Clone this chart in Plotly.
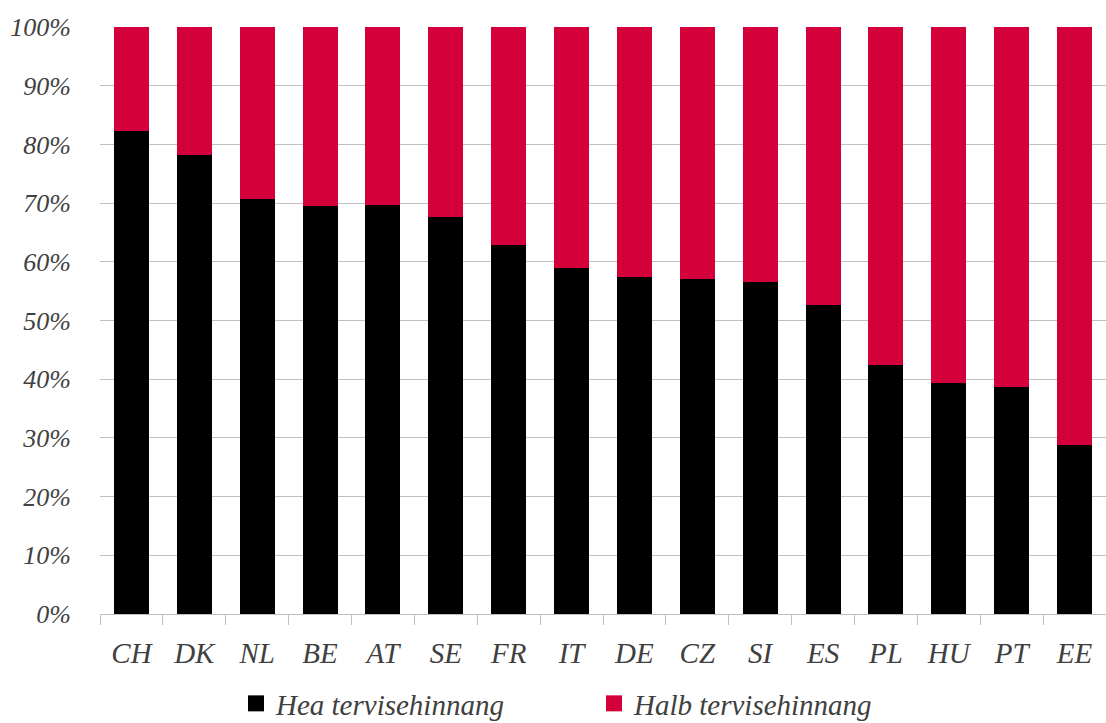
import plotly.graph_objects as go

countries = ["CH", "DK", "NL", "BE", "AT", "SE", "FR", "IT",
             "DE", "CZ", "SI", "ES", "PL", "HU", "PT", "EE"]
good_health = [82.3, 78.2, 70.7, 69.5, 69.7, 67.6, 62.9, 58.9,
               57.4, 57.1, 56.6, 52.6, 42.4, 39.4, 38.7, 28.8]
poor_health = [17.7, 21.8, 29.3, 30.5, 30.3, 32.4, 37.1, 41.1,
               42.6, 42.9, 43.4, 47.4, 57.6, 60.6, 61.3, 71.2]
y_ticks = [0, 10, 20, 30, 40, 50, 60, 70, 80, 90, 100]

BLACK = "#000000"
RED = "#D4003A"
TEXT = "#404040"
FONT = "Liberation Serif"

fig = go.Figure()
fig.add_trace(go.Bar(x=countries, y=good_health, marker_color=BLACK,
                     marker_line_width=0, showlegend=False))
fig.add_trace(go.Bar(x=countries, y=poor_health, marker_color=RED,
                     marker_line_width=0, showlegend=False))

# legend entries with larger square swatches
for name, col in [("Hea tervisehinnang", BLACK), ("Halb tervisehinnang", RED)]:
    fig.add_trace(go.Scatter(x=[None], y=[None], mode="markers", name=name,
                             marker=dict(symbol="square", size=20, color=col)))

fig.update_layout(
    width=1106, height=723,
    margin=dict(l=100, r=0, t=27, b=109, autoexpand=False),
    barmode="stack", bargap=0.444,
    plot_bgcolor="white", paper_bgcolor="white",
    font=dict(family=FONT, size=26, color=TEXT),
    legend=dict(orientation="h", x=(236 - 100) / 1006, xanchor="left",
                y=(614 - 729) / 587, yanchor="bottom",
                font=dict(family=FONT, size=29, color=TEXT, style="italic"),
                itemsizing="trace", entrywidth=313, traceorder="normal",
                borderwidth=0, tracegroupgap=0),
)
fig.update_xaxes(
    showgrid=False, showline=True, linecolor="#bfbfbf", linewidth=1,
    ticks="outside", tickson="boundaries", ticklen=10, tickcolor="#bfbfbf",
    tickfont=dict(family=FONT, size=29, color=TEXT, style="italic"),
    ticklabelstandoff=13, range=[-0.5, 15.5],
)
fig.update_yaxes(
    range=[0, 100], tickvals=y_ticks, ticktext=[f"{v}%" for v in y_ticks],
    showgrid=True, gridcolor="#c0c0c0", gridwidth=1, zeroline=False,
    tickfont=dict(family=FONT, size=26, color=TEXT, style="italic"),
    ticklabelstandoff=28,
)

fig.write_html("out.html")
